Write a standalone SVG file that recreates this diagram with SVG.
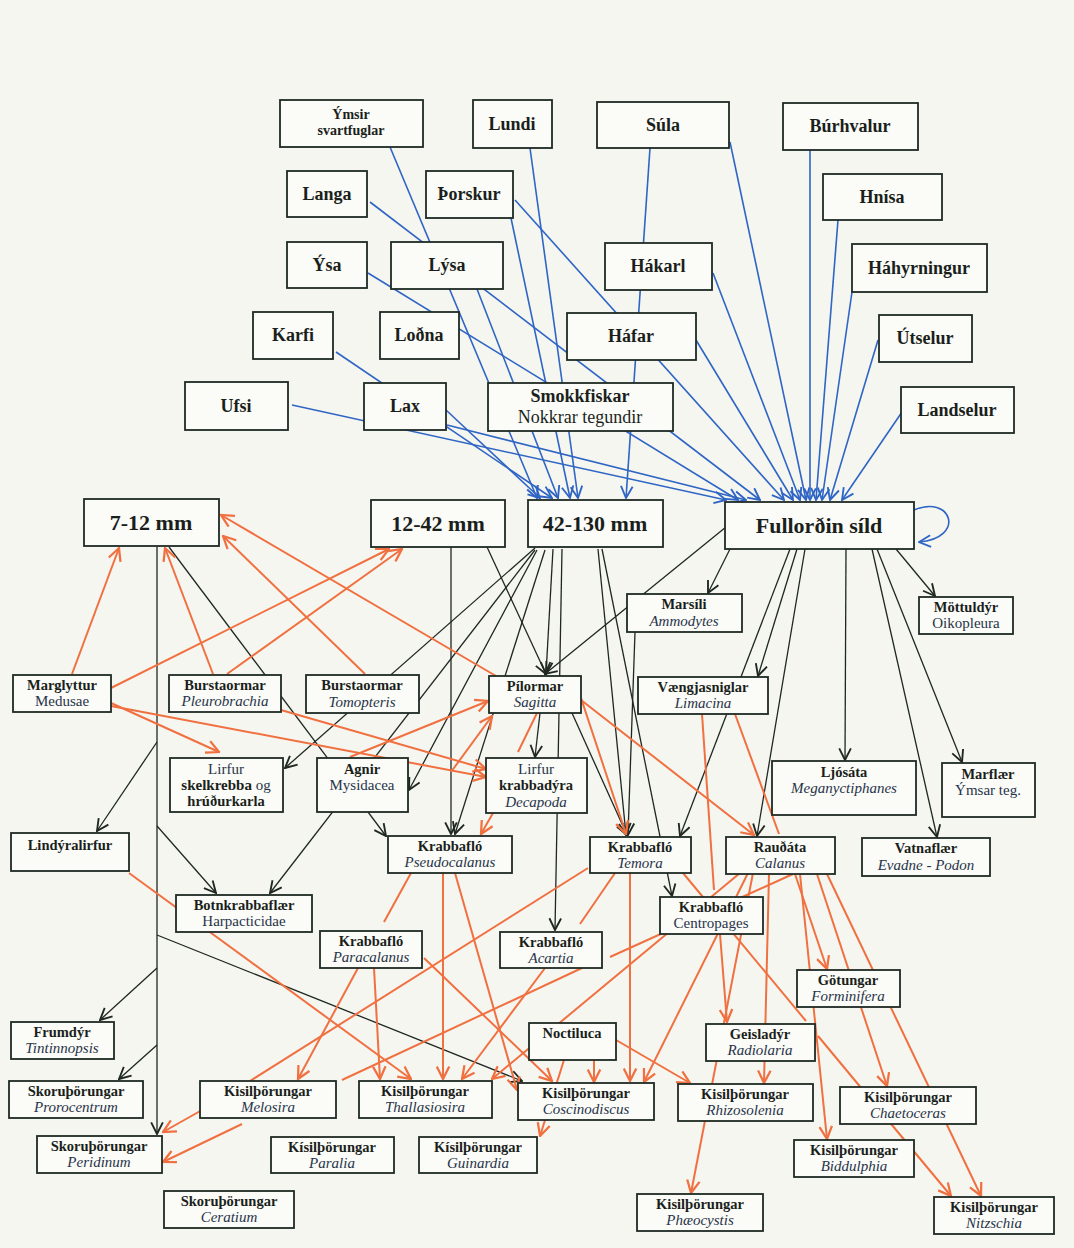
<svg xmlns="http://www.w3.org/2000/svg" width="1074" height="1248" viewBox="0 0 1074 1248">
<style>
.n rect{fill:#fbfbf7;stroke:#1f2a24;stroke-width:1.8}
text{font-family:"Liberation Serif","Times New Roman",serif;fill:#1a1f1c;text-anchor:middle}
.b{font-weight:bold}
.i{font-style:italic;fill:#27344a}
.r{fill:#27344a}
.f18{font-size:18px}
.f14{font-size:14px}
.f22{font-size:22px}
.s1{font-size:14.5px;font-weight:bold}
.s2{font-size:15px}
.cb line,.cb path{stroke:#2f65c4;stroke-width:1.6;fill:none}
.ck line{stroke:#1e2820;stroke-width:1.3;fill:none}
.co line{stroke:#f07040;stroke-width:2;fill:none}
.cb line,.cb path{marker-end:url(#mb)}
.ck line.a{marker-end:url(#mk)}
.co line.a{marker-end:url(#mo)}
</style>
<defs>
<marker id="mb" markerUnits="userSpaceOnUse" markerWidth="14" markerHeight="14" viewBox="0 0 12 12" refX="11" refY="6" orient="auto"><path d="M1,1 L11,6 L1,11" fill="none" stroke="#2f65c4" stroke-width="1.6"/></marker>
<marker id="mk" markerUnits="userSpaceOnUse" markerWidth="14" markerHeight="14" viewBox="0 0 12 12" refX="11" refY="6" orient="auto"><path d="M1,1 L11,6 L1,11" fill="none" stroke="#1e2820" stroke-width="1.6"/></marker>
<marker id="mo" markerUnits="userSpaceOnUse" markerWidth="15" markerHeight="15" viewBox="0 0 12 12" refX="11" refY="6" orient="auto"><path d="M1,1 L11,6 L1,11" fill="none" stroke="#f07040" stroke-width="1.8"/></marker>
</defs>
<rect x="0" y="0" width="1074" height="1248" fill="#f6f6f1"/>

<g id="connectors">
<g class="cb">
<line x1="390" y1="147" x2="537" y2="498"/>
<line x1="336" y1="352" x2="552" y2="498"/>
<line x1="446" y1="410" x2="540" y2="498"/>
<line x1="292" y1="405" x2="726" y2="500"/>
<line x1="477" y1="289" x2="558" y2="498"/>
<line x1="511" y1="218" x2="570" y2="498"/>
<line x1="530" y1="148" x2="578" y2="498"/>
<line x1="650" y1="148" x2="626" y2="498"/>
<line x1="370" y1="202" x2="760" y2="500"/>
<line x1="368" y1="273" x2="738" y2="500"/>
<line x1="447" y1="425" x2="746" y2="500"/>
<line x1="515" y1="200" x2="784" y2="500"/>
<line x1="730" y1="142" x2="806" y2="500"/>
<line x1="810" y1="150" x2="810" y2="500"/>
<line x1="838" y1="220" x2="816" y2="500"/>
<line x1="852" y1="292" x2="822" y2="500"/>
<line x1="878" y1="340" x2="830" y2="500"/>
<line x1="902" y1="412" x2="842" y2="500"/>
<line x1="713" y1="273" x2="800" y2="500"/>
<line x1="696" y1="340" x2="793" y2="500"/>
<path d="M914,510 C952,494 966,538 919,542"/>
</g>
<g class="ck">
<line class="a" x1="157" y1="547" x2="157" y2="1134"/>
<line class="a" x1="157" y1="742" x2="97" y2="831"/>
<line class="a" x1="157" y1="826" x2="216" y2="893"/>
<line class="a" x1="157" y1="935" x2="522" y2="1081"/>
<line class="a" x1="157" y1="968" x2="100" y2="1020"/>
<line class="a" x1="157" y1="1045" x2="119" y2="1079"/>
<line class="a" x1="451" y1="547" x2="451" y2="834"/>
<line class="a" x1="487" y1="547" x2="546" y2="674"/>
<line class="a" x1="169" y1="547" x2="386" y2="836"/>
<line class="a" x1="535" y1="548" x2="285" y2="768"/>
<line class="a" x1="535" y1="550" x2="270" y2="893"/>
<line class="a" x1="537" y1="550" x2="409" y2="790"/>
<line class="a" x1="545" y1="550" x2="455" y2="834"/>
<line class="a" x1="553" y1="549" x2="546" y2="674"/>
<line class="a" x1="562" y1="549" x2="555" y2="930"/>
<line class="a" x1="598" y1="549" x2="626" y2="835"/>
<line class="a" x1="602" y1="549" x2="672" y2="896"/>
<line class="a" x1="726" y1="527" x2="545" y2="674"/>
<line class="a" x1="730" y1="549" x2="708" y2="593"/>
<line class="a" x1="790" y1="549" x2="680" y2="836"/>
<line class="a" x1="797" y1="549" x2="758" y2="676"/>
<line class="a" x1="805" y1="549" x2="757" y2="836"/>
<line class="a" x1="846" y1="549" x2="845" y2="760"/>
<line class="a" x1="872" y1="549" x2="937" y2="837"/>
<line class="a" x1="877" y1="549" x2="962" y2="762"/>
<line class="a" x1="896" y1="549" x2="935" y2="596"/>
<line class="a" x1="635" y1="632" x2="628" y2="835"/>
<line class="a" x1="540" y1="713" x2="535" y2="757"/>
<line class="a" x1="572" y1="713" x2="627" y2="835"/>
</g>
<g class="co">
<line class="a" x1="72" y1="674" x2="119" y2="548"/>
<line class="a" x1="111" y1="688" x2="389" y2="549"/>
<line class="a" x1="227" y1="674" x2="402" y2="549"/>
<line class="a" x1="213" y1="674" x2="165" y2="548"/>
<line class="a" x1="365" y1="674" x2="223" y2="536"/>
<line class="a" x1="496" y1="676" x2="221" y2="515"/>
<line class="a" x1="111" y1="703" x2="219" y2="752"/>
<line class="a" x1="111" y1="706" x2="486" y2="777"/>
<line class="a" x1="281" y1="710" x2="486" y2="769"/>
<line class="a" x1="350" y1="757" x2="488" y2="701"/>
<line class="a" x1="451" y1="772" x2="492" y2="716"/>
<line class="a" x1="493" y1="813" x2="481" y2="834"/>
<line x1="537" y1="713" x2="518" y2="752"/>
<line class="a" x1="581" y1="698" x2="626" y2="834"/>
<line class="a" x1="581" y1="700" x2="754" y2="835"/>
<line x1="702" y1="714" x2="714" y2="890"/>
<line x1="735" y1="714" x2="779" y2="834"/>
<line class="a" x1="129" y1="873" x2="411" y2="1079"/>
<line x1="411" y1="873" x2="384" y2="922"/>
<line class="a" x1="443" y1="873" x2="443" y2="1079"/>
<line class="a" x1="455" y1="873" x2="517" y2="1090"/>
<line class="a" x1="358" y1="968" x2="298" y2="1079"/>
<line class="a" x1="374" y1="968" x2="380" y2="1079"/>
<line class="a" x1="424" y1="958" x2="552" y2="1081"/>
<line x1="588" y1="868" x2="250" y2="1081"/>
<line x1="582" y1="968" x2="342" y2="1080"/>
<line class="a" x1="545" y1="968" x2="462" y2="1079"/>
<line class="a" x1="740" y1="873" x2="492" y2="1079"/>
<line class="a" x1="748" y1="873" x2="644" y2="1082"/>
<line class="a" x1="753" y1="873" x2="691" y2="1193"/>
<line class="a" x1="720" y1="934" x2="727" y2="1022"/>
<line x1="793" y1="874" x2="610" y2="957"/>
<line x1="615" y1="873" x2="580" y2="924"/>
<line class="a" x1="630" y1="873" x2="630" y2="1081"/>
<line x1="683" y1="873" x2="806" y2="1021"/>
<line class="a" x1="795" y1="874" x2="827" y2="969"/>
<line class="a" x1="800" y1="874" x2="827" y2="1139"/>
<line class="a" x1="817" y1="874" x2="887" y2="1086"/>
<line class="a" x1="827" y1="874" x2="981" y2="1196"/>
<line class="a" x1="769" y1="874" x2="764" y2="1083"/>
<line class="a" x1="818" y1="1036" x2="951" y2="1196"/>
<line class="a" x1="564" y1="1060" x2="540" y2="1136"/>
<line class="a" x1="594" y1="1060" x2="594" y2="1082"/>
<line class="a" x1="616" y1="1040" x2="690" y2="1083"/>
<line class="a" x1="202" y1="1110" x2="163" y2="1132"/>
<line class="a" x1="242" y1="1124" x2="163" y2="1162"/>
</g>
</g>

<g id="ymsir" class="n"><rect x="280" y="100" width="143" height="47"/><text x="351" y="119" class="b f14">Ýmsir</text><text x="351" y="135" class="b f14">svartfuglar</text></g>
<g id="lundi" class="n"><rect x="473" y="100" width="79" height="48"/><text x="512" y="130" class="b f18">Lundi</text></g>
<g id="sula" class="n"><rect x="597" y="102" width="132" height="46"/><text x="663" y="131" class="b f18">Súla</text></g>
<g id="burhvalur" class="n"><rect x="783" y="103" width="135" height="47"/><text x="850" y="132" class="b f18">Búrhvalur</text></g>
<g id="langa" class="n"><rect x="287" y="171" width="80" height="46"/><text x="327" y="200" class="b f18">Langa</text></g>
<g id="thorskur" class="n"><rect x="426" y="171" width="87" height="47"/><text x="469" y="200" class="b f18">Þorskur</text></g>
<g id="hnisa" class="n"><rect x="823" y="174" width="119" height="46"/><text x="882" y="203" class="b f18">Hnísa</text></g>
<g id="ysa" class="n"><rect x="287" y="242" width="80" height="46"/><text x="327" y="271" class="b f18">Ýsa</text></g>
<g id="lysa" class="n"><rect x="391" y="242" width="112" height="47"/><text x="447" y="271" class="b f18">Lýsa</text></g>
<g id="hakarl" class="n"><rect x="605" y="243" width="107" height="47"/><text x="658" y="272" class="b f18">Hákarl</text></g>
<g id="hahyrningur" class="n"><rect x="852" y="244" width="135" height="48"/><text x="919" y="274" class="b f18">Háhyrningur</text></g>
<g id="karfi" class="n"><rect x="253" y="312" width="80" height="47"/><text x="293" y="341" class="b f18">Karfi</text></g>
<g id="lodna" class="n"><rect x="380" y="312" width="79" height="47"/><text x="419" y="341" class="b f18">Loðna</text></g>
<g id="hafar" class="n"><rect x="567" y="313" width="129" height="47"/><text x="631" y="342" class="b f18">Háfar</text></g>
<g id="utselur" class="n"><rect x="879" y="315" width="93" height="47"/><text x="925" y="344" class="b f18">Útselur</text></g>
<g id="ufsi" class="n"><rect x="185" y="382" width="103" height="48"/><text x="236" y="412" class="b f18">Ufsi</text></g>
<g id="lax" class="n"><rect x="364" y="383" width="82" height="47"/><text x="405" y="412" class="b f18">Lax</text></g>
<g id="smokkfiskar" class="n"><rect x="488" y="383" width="185" height="48"/><text x="580" y="402" class="b f18">Smokkfiskar</text><text x="580" y="423" class="f18">Nokkrar tegundir</text></g>
<g id="landselur" class="n"><rect x="901" y="387" width="113" height="46"/><text x="957" y="416" class="b f18">Landselur</text></g>

<g id="s7-12" class="n"><rect x="84" y="499" width="135" height="47"/><text x="151" y="530" class="b f22">7-12 mm</text></g>
<g id="s12-42" class="n"><rect x="371" y="500" width="134" height="47"/><text x="438" y="531" class="b f22">12-42 mm</text></g>
<g id="s42-130" class="n"><rect x="528" y="500" width="135" height="47"/><text x="595" y="531" class="b f22">42-130 mm</text></g>
<g id="fullordin" class="n"><rect x="725" y="502" width="189" height="47"/><text x="819" y="533" class="b f22">Fullorðin síld</text></g>

<g id="marsili" class="n"><rect x="627" y="594" width="115" height="38"/><text x="684" y="609" class="s1">Marsíli</text><text x="684" y="626" class="s2 i">Ammodytes</text></g>
<g id="mottuldyr" class="n"><rect x="919" y="597" width="94" height="37"/><text x="966" y="612" class="s1">Möttuldýr</text><text x="966" y="628" class="s2 r">Oikopleura</text></g>
<g id="marglyttur" class="n"><rect x="13" y="675" width="98" height="37"/><text x="62" y="690" class="s1">Marglyttur</text><text x="62" y="706" class="s2 r">Medusae</text></g>
<g id="pleurobrachia" class="n"><rect x="169" y="675" width="112" height="37"/><text x="225" y="690" class="s1">Burstaormar</text><text x="225" y="706" class="s2 i">Pleurobrachia</text></g>
<g id="tomopteris" class="n"><rect x="306" y="675" width="113" height="38"/><text x="362" y="690" class="s1">Burstaormar</text><text x="362" y="707" class="s2 i">Tomopteris</text></g>
<g id="pilormar" class="n"><rect x="489" y="676" width="92" height="37"/><text x="535" y="691" class="s1">Pílormar</text><text x="535" y="707" class="s2 i">Sagitta</text></g>
<g id="vaengjasniglar" class="n"><rect x="638" y="677" width="130" height="37"/><text x="703" y="692" class="s1">Vængjasniglar</text><text x="703" y="708" class="s2 i">Limacina</text></g>
<g id="skelkrebba" class="n"><rect x="170" y="758" width="113" height="54"/><text x="226" y="774" class="s2 r">Lirfur</text><text x="226" y="790" class="s2 r"><tspan class="b" style="fill:#1a1f1c">skelkrebba</tspan> og</text><text x="226" y="806" class="s1">hrúðurkarla</text></g>
<g id="agnir" class="n"><rect x="317" y="758" width="91" height="54"/><text x="362" y="774" class="s1">Agnir</text><text x="362" y="790" class="s2 r">Mysidacea</text></g>
<g id="krabbadyra" class="n"><rect x="486" y="758" width="101" height="55"/><text x="536" y="774" class="s2 r">Lirfur</text><text x="536" y="790" class="s1">krabbadýra</text><text x="536" y="807" class="s2 i">Decapoda</text></g>
<g id="ljosata" class="n"><rect x="772" y="761" width="144" height="54"/><text x="844" y="777" class="s1">Ljósáta</text><text x="844" y="793" class="s2 i">Meganyctiphanes</text></g>
<g id="marflaer" class="n"><rect x="942" y="763" width="93" height="54"/><text x="988" y="779" class="s1">Marflær</text><text x="988" y="795" class="s2 r">Ýmsar teg.</text></g>
<g id="lindyralirfur" class="n"><rect x="11" y="833" width="118" height="38"/><text x="70" y="850" class="s1">Lindýralirfur</text></g>
<g id="pseudocalanus" class="n"><rect x="388" y="836" width="124" height="37"/><text x="450" y="851" class="s1">Krabbafló</text><text x="450" y="867" class="s2 i">Pseudocalanus</text></g>
<g id="temora" class="n"><rect x="590" y="837" width="101" height="36"/><text x="640" y="852" class="s1">Krabbafló</text><text x="640" y="868" class="s2 i">Temora</text></g>
<g id="raudata" class="n"><rect x="726" y="837" width="109" height="37"/><text x="780" y="852" class="s1">Rauðáta</text><text x="780" y="868" class="s2 i">Calanus</text></g>
<g id="vatnaflaer" class="n"><rect x="862" y="838" width="128" height="38"/><text x="926" y="853" class="s1">Vatnaflær</text><text x="926" y="870" class="s2 i">Evadne - Podon</text></g>
<g id="botnkrabbaflaer" class="n"><rect x="176" y="895" width="136" height="37"/><text x="244" y="910" class="s1">Botnkrabbaflær</text><text x="244" y="926" class="s2 r">Harpacticidae</text></g>
<g id="centropages" class="n"><rect x="660" y="897" width="103" height="37"/><text x="711" y="912" class="s1">Krabbafló</text><text x="711" y="928" class="s2 r">Centropages</text></g>
<g id="paracalanus" class="n"><rect x="320" y="931" width="102" height="37"/><text x="371" y="946" class="s1">Krabbafló</text><text x="371" y="962" class="s2 i">Paracalanus</text></g>
<g id="acartia" class="n"><rect x="500" y="932" width="102" height="36"/><text x="551" y="947" class="s1">Krabbafló</text><text x="551" y="963" class="s2 i">Acartia</text></g>
<g id="gotungar" class="n"><rect x="797" y="970" width="103" height="37"/><text x="848" y="985" class="s1">Götungar</text><text x="848" y="1001" class="s2 i">Forminifera</text></g>
<g id="frumdyr" class="n"><rect x="11" y="1022" width="103" height="37"/><text x="62" y="1037" class="s1">Frumdýr</text><text x="62" y="1053" class="s2 i">Tintinnopsis</text></g>
<g id="noctiluca" class="n"><rect x="529" y="1023" width="87" height="37"/><text x="572" y="1038" class="s1">Noctiluca</text></g>
<g id="geisladyr" class="n"><rect x="706" y="1024" width="109" height="37"/><text x="760" y="1039" class="s1">Geisladýr</text><text x="760" y="1055" class="s2 i">Radiolaria</text></g>
<g id="prorocentrum" class="n"><rect x="9" y="1081" width="134" height="37"/><text x="76" y="1096" class="s1">Skoruþörungar</text><text x="76" y="1112" class="s2 i">Prorocentrum</text></g>
<g id="melosira" class="n"><rect x="200" y="1081" width="136" height="37"/><text x="268" y="1096" class="s1">Kisilþörungar</text><text x="268" y="1112" class="s2 i">Melosira</text></g>
<g id="thallasiosira" class="n"><rect x="359" y="1081" width="133" height="37"/><text x="425" y="1096" class="s1">Kisilþörungar</text><text x="425" y="1112" class="s2 i">Thallasiosira</text></g>
<g id="coscinodiscus" class="n"><rect x="518" y="1083" width="136" height="37"/><text x="586" y="1098" class="s1">Kisilþörungar</text><text x="586" y="1114" class="s2 i">Coscinodiscus</text></g>
<g id="rhizosolenia" class="n"><rect x="678" y="1084" width="135" height="37"/><text x="745" y="1099" class="s1">Kisilþörungar</text><text x="745" y="1115" class="s2 i">Rhizosolenia</text></g>
<g id="chaetoceras" class="n"><rect x="840" y="1087" width="136" height="37"/><text x="908" y="1102" class="s1">Kisilþörungar</text><text x="908" y="1118" class="s2 i">Chaetoceras</text></g>
<g id="peridinum" class="n"><rect x="37" y="1136" width="125" height="37"/><text x="99" y="1151" class="s1">Skoruþörungar</text><text x="99" y="1167" class="s2 i">Peridinum</text></g>
<g id="paralia" class="n"><rect x="271" y="1137" width="123" height="36"/><text x="332" y="1152" class="s1">Kísilþörungar</text><text x="332" y="1168" class="s2 i">Paralia</text></g>
<g id="guinardia" class="n"><rect x="419" y="1137" width="118" height="36"/><text x="478" y="1152" class="s1">Kísilþörungar</text><text x="478" y="1168" class="s2 i">Guinardia</text></g>
<g id="biddulphia" class="n"><rect x="794" y="1140" width="120" height="37"/><text x="854" y="1155" class="s1">Kisilþörungar</text><text x="854" y="1171" class="s2 i">Biddulphia</text></g>
<g id="ceratium" class="n"><rect x="164" y="1191" width="130" height="37"/><text x="229" y="1206" class="s1">Skoruþörungar</text><text x="229" y="1222" class="s2 i">Ceratium</text></g>
<g id="phaeocystis" class="n"><rect x="637" y="1194" width="126" height="37"/><text x="700" y="1209" class="s1">Kisilþörungar</text><text x="700" y="1225" class="s2 i">Phæocystis</text></g>
<g id="nitzschia" class="n"><rect x="934" y="1197" width="120" height="37"/><text x="994" y="1212" class="s1">Kisilþörungar</text><text x="994" y="1228" class="s2 i">Nitzschia</text></g>
</svg>
